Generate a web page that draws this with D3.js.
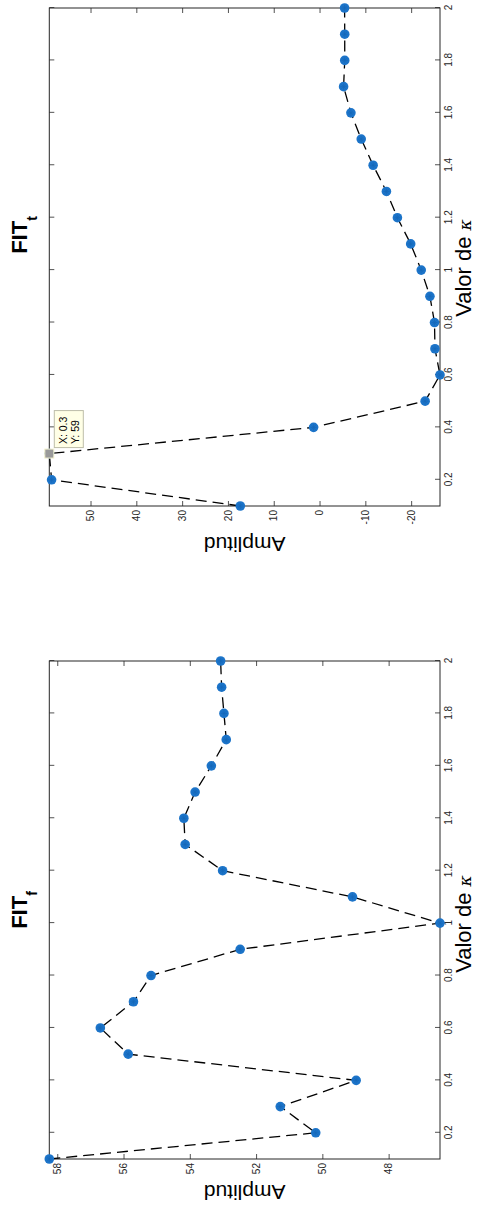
<!DOCTYPE html>
<html>
<head>
<meta charset="utf-8">
<script src="https://cdn.jsdelivr.net/npm/d3@7"></script>
<style>
  html, body { margin: 0; padding: 0; background: #fff; }
  svg { display: block; }
</style>
</head>
<body>
<svg id="fig" width="478" height="1209"></svg>
<script>
// κ sweep and the two fit amplitudes
const kappa = [0.1, 0.2, 0.3, 0.4, 0.5, 0.6, 0.7, 0.8, 0.9, 1.0,
               1.1, 1.2, 1.3, 1.4, 1.5, 1.6, 1.7, 1.8, 1.9, 2.0];
const fitF = [58.24, 50.20, 51.27, 48.98, 55.86, 56.70, 55.70, 55.17, 52.48, 46.45,
              49.09, 53.01, 54.14, 54.18, 53.84, 53.35, 52.90, 52.97, 53.04, 53.07];
const fitT = [17.3, 58.5, 59.0, 1.3, -23.05, -26.3, -25.2, -25.1, -24.1, -22.2,
              -19.9, -17.0, -14.6, -11.7, -9.1, -6.85, -5.25, -5.5, -5.5, -5.47];
const kappaTicks = [0.2, 0.4, 0.6, 0.8, 1.0, 1.2, 1.4, 1.6, 1.8, 2.0];
const fitFTicks = [48, 50, 52, 54, 56, 58];
const fitTTicks = [-20, -10, 0, 10, 20, 30, 40, 50];
const tip = { k: 0.3, v: 59 };

const FONT = '"Liberation Sans", Arial, Helvetica, sans-serif';
const AX = "#262626";
const MARK = "#1c74c9";

const svg = d3.select("#fig");
// the figure is laid out landscape (1209 x 478) and turned a quarter turn counter-clockwise
const fig = svg.append("g").attr("transform", "translate(0,1209) rotate(-90)");
fig.append("rect").attr("width", 1209).attr("height", 478).attr("fill", "#fff");

const TOP = 49.3, BOTTOM = 440;
const fmt = d => String(+(+d).toFixed(1));

function styleAxis(g) {
  g.select(".domain").remove();
  g.attr("color", AX).attr("font-family", FONT).attr("font-size", 10);
  g.selectAll(".tick line").attr("stroke-width", 0.8);
}

function drawPanel(o) {
  const g = fig.append("g");
  const x = d3.scaleLinear().domain(d3.extent(kappa)).range([o.x0, o.x1]);
  const y = d3.scaleLinear().domain(d3.extent(o.values)).range([BOTTOM, TOP]);

  g.append("g").attr("transform", `translate(0,${BOTTOM})`)
    .call(d3.axisBottom(x).tickValues(kappaTicks).tickSize(-5).tickPadding(5).tickFormat(fmt))
    .call(styleAxis);
  g.append("g").attr("transform", `translate(0,${TOP})`)
    .call(d3.axisTop(x).tickValues(kappaTicks).tickSize(-5).tickFormat(""))
    .call(styleAxis);
  g.append("g").attr("transform", `translate(${o.x0},0)`)
    .call(d3.axisLeft(y).tickValues(o.ticks).tickSize(-5).tickPadding(4).tickFormat(d => String(d)))
    .call(styleAxis);
  g.append("g").attr("transform", `translate(${o.x1},0)`)
    .call(d3.axisRight(y).tickValues(o.ticks).tickSize(-5).tickFormat(""))
    .call(styleAxis);

  g.append("rect")
    .attr("x", o.x0).attr("y", TOP)
    .attr("width", o.x1 - o.x0).attr("height", BOTTOM - TOP)
    .attr("fill", "none").attr("stroke", AX).attr("stroke-width", 1);

  const pts = kappa.map((k, i) => ({ k, v: o.values[i] }));
  g.append("path").datum(pts)
    .attr("d", d3.line().x(d => x(d.k)).y(d => y(d.v)))
    .attr("fill", "none").attr("stroke", "#000")
    .attr("stroke-width", 1.3).attr("stroke-dasharray", "11,6");

  const m = g.selectAll("g.mk").data(pts).enter().append("g")
    .attr("class", "mk")
    .attr("transform", d => `translate(${x(d.k)},${y(d.v)})`);
  m.append("circle").attr("r", 4.8).attr("fill", MARK);
  m.append("path")
    .attr("d", "M-3,0H3M0,-3V3M-2.1,-2.1L2.1,2.1M-2.1,2.1L2.1,-2.1")
    .attr("stroke", "#1667b8").attr("stroke-width", 0.7);

  // title with subscript
  const t = g.append("text")
    .attr("x", (o.x0 + o.x1) / 2 + o.titleShift).attr("y", 27)
    .attr("text-anchor", "middle")
    .attr("font-family", FONT).attr("font-weight", "bold").attr("font-size", 22)
    .attr("fill", "#000");
  t.append("tspan").text("FIT");
  t.append("tspan").attr("dy", 10).attr("font-size", 14).text(o.sub);

  // κ axis label
  const xl = g.append("text")
    .attr("x", (o.x0 + o.x1) / 2 + o.xlabShift).attr("y", 471)
    .attr("text-anchor", "middle")
    .attr("font-family", FONT).attr("font-size", 22).attr("fill", "#000");
  xl.append("tspan").text("Valor de ");
  xl.append("tspan").attr("font-family", '"DejaVu Serif", "Liberation Serif", serif')
    .attr("font-style", "italic").attr("font-size", 17).text("κ");

  // amplitude axis label
  g.append("text")
    .attr("transform", `translate(${o.ylabX},${(TOP + BOTTOM) / 2}) rotate(-90)`)
    .attr("text-anchor", "middle")
    .attr("font-family", FONT).attr("font-size", 21).attr("fill", "#000")
    .text("Amplitud");

  return { x, y, g };
}

drawPanel({ values: fitF, ticks: fitFTicks, x0: 50, x1: 548, sub: "f",
            titleShift: 0, xlabShift: -14, ylabX: 24 });
const pt = drawPanel({ values: fitT, ticks: fitTTicks, x0: 703, x1: 1201, sub: "t",
            titleShift: 22, xlabShift: -11, ylabX: 672 });

// data cursor on the FIT_t curve
const tx = pt.x(tip.k), ty = pt.y(tip.v);
pt.g.append("rect")
  .attr("x", tx - 4.5).attr("y", ty - 4.5).attr("width", 9).attr("height", 9)
  .attr("fill", "#9a9a9a").attr("stroke", "#f4f2cf").attr("stroke-width", 1);
const box = pt.g.append("g").attr("transform", `translate(${tx + 6},${ty + 5})`);
box.append("rect").attr("width", 37).attr("height", 29)
  .attr("fill", "#ffffe6").attr("stroke", "#bdbda8").attr("stroke-width", 1);
box.append("text").attr("x", 3.5).attr("y", 13)
  .attr("font-family", FONT).attr("font-size", 10.5).attr("fill", "#000")
  .text(`X: ${tip.k}`);
box.append("text").attr("x", 3.5).attr("y", 25)
  .attr("font-family", FONT).attr("font-size", 10.5).attr("fill", "#000")
  .text(`Y: ${tip.v}`);
</script>
</body>
</html>
